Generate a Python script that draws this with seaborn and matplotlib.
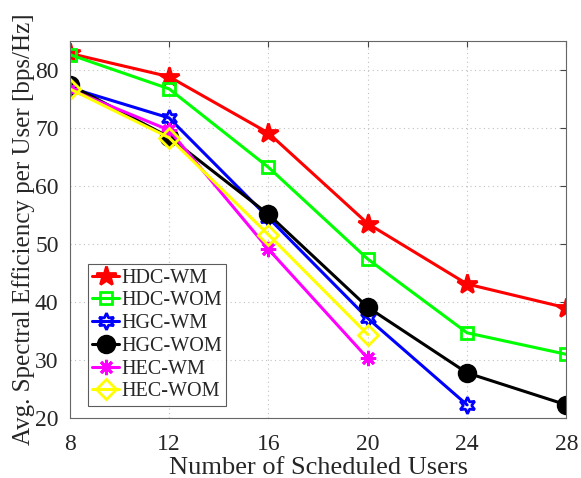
import pandas as pd
import matplotlib.pyplot as plt
import seaborn as sns
import numpy as np

users = [8, 12, 16, 20, 24, 28]
hdc_wm = [82.8, 78.8, 69.1, 53.5, 43.1, 39.0]
hdc_wom = [82.6, 76.7, 63.2, 47.4, 34.7, 31.0]
hgc_wm = [76.9, 71.7, 54.5, 37.2, 22.3]
hgc_wom = [77.4, 68.4, 55.1, 39.1, 27.8, 22.3]
hec_wm = [76.6, 69.6, 49.1, 30.3]
hec_wom = [76.7, 68.3, 51.6, 34.4]

names = ['HDC-WM', 'HDC-WOM', 'HGC-WM', 'HGC-WOM', 'HEC-WM', 'HEC-WOM']
series = [hdc_wm, hdc_wom, hgc_wm, hgc_wom, hec_wm, hec_wom]
colors = ['#ff0000', '#00ff00', '#0000ff', '#000000', '#ff00ff', '#ffff00']
markers = ['*', 's', (6, 1, 0), 'o', (8, 2, 0), 'D']
msizes = [15, 9, 12, 12, 11, 10]
filled = [True, False, False, True, True, False]

rows = []
for n, s in zip(names, series):
    for u, v in zip(users, s):
        rows.append({'users': u, 'eff': v, 'scheme': n})
df = pd.DataFrame(rows)

sns.set_style('white')
plt.rcParams['font.family'] = ['Liberation Serif', 'DejaVu Serif']

fig, ax = plt.subplots(figsize=(5.81, 4.78), dpi=100)
for n, c, m, ms, f in zip(names, colors, markers, msizes, filled):
    sns.lineplot(data=df[df.scheme == n], x='users', y='eff', ax=ax,
                 color=c, marker=m, markersize=ms, linewidth=2.2,
                 markerfacecolor=c if f else 'none', markeredgecolor=c,
                 markeredgewidth=2, label=n)

ax.set_xlim(8, 28)
ax.set_ylim(20, 85)
ax.set_xticks(users)
ax.set_yticks([20, 30, 40, 50, 60, 70, 80])
ax.grid(True, linestyle=(0, (1, 3)), color='#c0c0c0', linewidth=0.8)
ax.tick_params(direction='in', labelsize=17, length=4, top=True, right=True,
               color='#444444', labelcolor='#262626')
ax.tick_params(axis='x', pad=11)
ax.tick_params(axis='y', pad=8)
for sp in ax.spines.values():
    sp.set_color('#666666')
    sp.set_linewidth(0.8)
ax.set_xlabel('Number of Scheduled Users', fontsize=19, color='#262626', labelpad=2)
ax.set_ylabel('Avg. Spectral Efficiency per User [bps/Hz]', fontsize=18, color='#262626', labelpad=0)
leg = ax.legend(loc='lower left', bbox_to_anchor=(0.036, 0.033), fontsize=14.5, frameon=True,
                fancybox=False, edgecolor='#333333', handlelength=1.35, handletextpad=0.1,
                labelspacing=0.18, borderpad=0.22, borderaxespad=0)
leg.get_frame().set_linewidth(0.8)

plt.subplots_adjust(left=0.12, right=0.975, top=0.915, bottom=0.125)
plt.savefig('out.png', dpi=100)
